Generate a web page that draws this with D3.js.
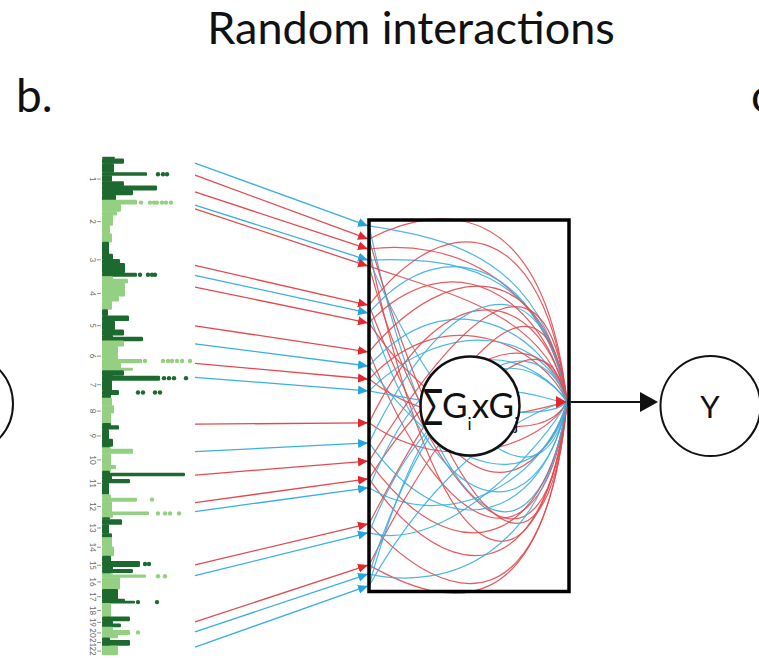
<!DOCTYPE html>
<html>
<head>
<meta charset="utf-8">
<script src="https://cdn.jsdelivr.net/npm/d3@7"></script>
<style>
  html, body { margin: 0; padding: 0; background: #fff; }
  svg { display: block; }
</style>
</head>
<body>
<svg id="fig" width="759" height="660"></svg>
<script>
// ---- Genome layout (hg19 chromosome lengths, Mb) ----
const chrNames = ["1","2","3","4","5","6","7","8","9","10","11","12","13","14","15","16","17","18","19","20","21","22"];
const chrLengths = [249,243,198,191,181,171,159,146,141,136,135,133,115,107,102,90,81,78,59,63,48,51];

// Association profile per chromosome: [fromFrac, toFrac, -log10 p]
const chrSegments = [
  [[0,0.04,1.3],[0.04,0.15,2.2],[0.15,0.36,1.2],[0.36,0.43,4.5],[0.43,0.57,1.0],[0.57,0.67,2.2],[0.67,0.77,5.5],[0.77,0.88,3.1],[0.88,1,1.4]],
  [[0,0.1,3.5],[0.1,0.27,1.9],[0.27,0.36,1.5],[0.36,0.6,1.1],[0.6,0.8,0.8],[0.8,1,1.0]],
  [[0,0.35,0.7],[0.35,0.5,1.1],[0.5,0.62,1.8],[0.62,0.9,2.3],[0.9,1,3.5]],
  [[0,0.08,1.1],[0.08,0.2,2.6],[0.2,0.6,2.3],[0.6,0.75,1.7],[0.75,1,1.0]],
  [[0,0.2,0.6],[0.2,0.36,2.7],[0.36,0.65,1.3],[0.65,0.82,2.2],[0.82,0.88,1.1],[0.88,1,4.1]],
  [[0,0.18,2.2],[0.18,0.62,1.6],[0.62,0.75,4.0],[0.75,0.92,1.9],[0.92,1,3.1]],
  [[0,0.18,2.2],[0.18,0.2,1.1],[0.2,0.36,5.8],[0.36,0.72,1.0],[0.72,0.88,1.7],[0.88,1,0.9]],
  [[0,0.3,1.0],[0.3,0.6,1.2],[0.6,1,0.9]],
  [[0,0.1,0.9],[0.1,0.25,1.7],[0.25,0.65,0.7],[0.65,0.95,1.1],[0.95,1,0.8]],
  [[0,0.06,0.9],[0.06,0.25,3.1],[0.25,0.75,0.9],[0.75,0.9,1.4],[0.9,1,0.9]],
  [[0,0.08,0.8],[0.08,0.2,8.3],[0.2,0.35,1.0],[0.35,0.5,2.8],[0.5,1,0.7]],
  [[0,0.15,0.9],[0.15,0.3,3.5],[0.3,0.75,1.0],[0.75,0.88,4.7],[0.88,1,1.1]],
  [[0,0.1,0.8],[0.1,0.35,2.0],[0.35,0.8,0.7],[0.8,1,1.0]],
  [[0,0.5,1.0],[0.5,1,1.2]],
  [[0,0.3,0.9],[0.3,0.6,3.8],[0.6,0.75,1.1],[0.75,0.95,3.1],[0.95,1,0.9]],
  [[0,0.08,1.1],[0.08,0.25,4.4],[0.25,1,1.8]],
  [[0,0.7,1.6],[0.7,0.85,2.3],[0.85,1,3.3]],
  [[0,1,0.9]],
  [[0,0.4,2.8],[0.4,0.7,1.1],[0.7,1,1.9]],
  [[0,0.3,1.1],[0.3,0.7,2.8],[0.7,1,1.6]],
  [[0,0.3,0.8],[0.3,0.9,2.8],[0.9,1,0.8]],
  [[0,1,1.6]]
];

// Isolated strong hits: [chromosome index, fraction, -log10 p]
const outliers = [
  [0,0.40,5.6],[0,0.40,6.1],[0,0.40,6.5],
  [1,0.06,3.9],[1,0.06,4.8],[1,0.06,5.2],[1,0.06,5.5],[1,0.06,6.0],[1,0.06,6.4],[1,0.06,6.9],
  [2,0.95,3.8],[2,0.95,4.6],[2,0.95,5.0],[2,0.95,5.3],
  [5,0.68,4.3],[5,0.68,6.1],[5,0.68,6.6],[5,0.68,7.0],[5,0.68,7.5],[5,0.68,8.0],[5,0.68,8.8],
  [6,0.28,6.2],[6,0.28,6.7],[6,0.28,7.2],[6,0.28,8.4],
  [6,0.8,3.6],[6,0.8,4.1],[6,0.8,5.3],[6,0.8,5.8],
  [11,0.22,5.0],
  [11,0.82,5.6],[11,0.82,6.3],[11,0.82,6.8],[11,0.82,7.7],
  [14,0.45,4.3],[14,0.45,4.7],
  [15,0.17,5.6],[15,0.17,6.3],
  [16,0.92,3.6],[16,0.92,5.5],
  [19,0.5,3.6]
];

// SNPs feeding the interaction model: [chromosome index, fraction]
const snpSources = [
  [0,0.14],[0,0.42],[0,0.81],[1,0.12],[1,0.21],[2,0.68],[2,0.97],[3,0.32],
  [4,0.52],[5,0.10],[5,0.76],[6,0.25],[8,0.04],[9,0.17],[10,0.17],[11,0.35],
  [11,0.74],[14,0.5],[15,0.13],[18,0.5],[19,0.45],[21,0.11]
];
// Where each SNP enters the model box (fraction of box height)
const inputSlots = [0.016,0.051,0.078,0.108,0.124,0.229,0.250,0.277,0.355,0.393,0.428,0.460,
                    0.546,0.600,0.649,0.697,0.721,0.818,0.842,0.929,0.953,0.985];
const inputKinds = ["b","r","r","b","r","r","b","r","r","b","r","b","r","b","r","r","b","r","b","r","b","b"];

// Pairwise interaction paths: [input index, first bend, second bend]
const links = [
  [0,0.05,0.10],[0,1.00,0.90],
  [1,-0.06,-0.04],[1,0.80,1.10],
  [2,0.05,0.15],[2,1.10,1.00],
  [3,0.10,0.12],[3,0.60,0.80],
  [4,0.20,0.25],[4,0.90,0.70],
  [5,-0.05,0.00],[5,0.80,1.05],
  [6,0.00,0.15],[6,0.90,0.80],
  [7,0.05,0.20],[7,0.60,0.60],
  [8,0.10,0.10],[8,0.90,0.95],
  [9,0.15,0.30],[9,0.70,0.75],
  [10,0.20,0.35],[10,0.60,0.50],
  [11,0.25,0.30],[11,0.50,0.55],
  [12,0.10,0.20],[12,0.70,0.60],
  [13,0.15,0.10],[13,0.90,0.80],
  [14,0.30,0.00],[14,0.95,0.90],
  [15,0.35,0.25],[15,1.00,1.00],
  [16,0.20,0.40],[16,0.85,0.70],
  [17,0.40,0.05],[17,1.05,1.10],
  [18,0.30,0.50],[18,0.90,0.60],
  [19,1.05,1.10],[19,0.50,0.20],
  [20,0.30,0.30],[20,1.00,0.90],
  [21,0.20,0.40],[21,0.60,0.50]
];

const colors = {
  dark: "#1c6a2f", light: "#94d081",
  r: "#e6262d", b: "#22a6e2",
  rLine: "#e24a4f", bLine: "#3aafe2"
};

const svg = d3.select("#fig");
const font = "Lato, 'Open Sans', sans-serif";

// ---- Headings ----
svg.append("text").attr("x", 411).attr("y", 44).attr("text-anchor", "middle")
  .attr("font-family", font).attr("font-size", 45).attr("fill", "#111")
  .text("Random interactions");
svg.append("text").attr("x", 16).attr("y", 112)
  .attr("font-family", font).attr("font-size", 46).attr("fill", "#111").text("b.");
svg.append("text").attr("x", 751).attr("y", 112)
  .attr("font-family", font).attr("font-size", 46).attr("fill", "#111").text("c");

// ---- Manhattan plot (vertical) ----
const cum = [];
chrLengths.reduce((acc, L, i) => { cum[i] = acc; return acc + L; }, 0);
const total = d3.sum(chrLengths);
const gy = d3.scaleLinear().domain([0, total]).range([157, 655]);
const vx = d3.scaleLinear().domain([0, 9]).range([102, 192]);
const posY = (c, f) => gy(cum[c] + f * chrLengths[c]);

const man = svg.append("g");
chrSegments.forEach((segs, c) => {
  const col = c % 2 === 0 ? colors.dark : colors.light;
  man.selectAll(null).data(segs).enter().append("rect")
    .attr("x", vx(0))
    .attr("y", d => posY(c, d[0]) - 0.3)
    .attr("width", d => vx(d[2]) - vx(0))
    .attr("height", d => Math.max(1.5, posY(c, d[1]) - posY(c, d[0]) + 0.6))
    .attr("rx", 1.2)
    .attr("fill", col);
});
man.selectAll("circle.hit").data(outliers).enter().append("circle")
  .attr("cx", d => vx(d[2])).attr("cy", d => posY(d[0], d[1])).attr("r", 2.2)
  .attr("fill", d => d[0] % 2 === 0 ? colors.dark : colors.light);

const mids = chrLengths.map((L, i) => cum[i] + L / 2);
const axis = svg.append("g").attr("transform", `translate(${vx(0) - 1},0)`)
  .call(d3.axisLeft(gy).tickValues(mids).tickFormat((d, i) => chrNames[i]).tickSize(4));
axis.select(".domain").remove();
axis.selectAll(".tick line").attr("stroke", "#777").attr("stroke-width", 0.8);
axis.selectAll(".tick text")
  .attr("x", 0).attr("y", 0).attr("dy", "0.35em")
  .attr("text-anchor", "middle")
  .attr("transform", "translate(-8,0) rotate(90)")
  .attr("font-family", font).attr("font-size", 8).attr("fill", "#666");

// ---- Model box ----
const box = { x0: 369, x1: 569, y0: 220, y1: 591.5 };
const by = d3.scaleLinear().domain([0, 1]).range([box.y0, box.y1]);
const W = box.x1 - box.x0;
const outPt = [box.x1 - 2, 402];

const defs = svg.append("defs");
["r", "b"].forEach(k => {
  defs.append("marker").attr("id", "head-" + k)
    .attr("viewBox", "0 0 10 10").attr("refX", 10).attr("refY", 5)
    .attr("markerUnits", "userSpaceOnUse").attr("markerWidth", 10).attr("markerHeight", 10)
    .attr("orient", "auto")
    .append("path").attr("d", "M0,0.5 L10,5 L0,9.5 Z").attr("fill", colors[k]);
});

// interaction curves
const curves = svg.append("g").attr("fill", "none");
curves.selectAll("path").data(links).enter().append("path")
  .attr("d", d => {
    const y0 = by(inputSlots[d[0]]);
    const p = d3.path();
    p.moveTo(box.x0, y0);
    p.bezierCurveTo(box.x0 + 0.4 * W, by(d[1]), box.x1 - 0.12 * W, by(d[2]), outPt[0], outPt[1]);
    return p.toString();
  })
  .attr("stroke", d => inputKinds[d[0]] === "r" ? colors.rLine : colors.bLine)
  .attr("stroke-width", 1.2).attr("opacity", 0.9);

// SNP -> model arrows
svg.append("g").selectAll("line").data(snpSources).enter().append("line")
  .attr("x1", 195).attr("y1", d => posY(d[0], d[1]))
  .attr("x2", box.x0 - 1).attr("y2", (d, i) => by(inputSlots[i]))
  .attr("stroke", (d, i) => inputKinds[i] === "r" ? colors.rLine : colors.bLine)
  .attr("stroke-width", 1.3)
  .attr("marker-end", (d, i) => `url(#head-${inputKinds[i]})`);

// combined output head
svg.append("path")
  .attr("d", `M${outPt[0] - 11},${outPt[1] - 6} L${outPt[0]},${outPt[1]} L${outPt[0] - 11},${outPt[1] + 6} Z`)
  .attr("fill", colors.r);

svg.append("rect").attr("x", box.x0).attr("y", box.y0)
  .attr("width", W).attr("height", box.y1 - box.y0)
  .attr("fill", "none").attr("stroke", "#000").attr("stroke-width", 3.5);

// sum node
svg.append("circle").attr("cx", 470).attr("cy", 406).attr("r", 49.5)
  .attr("fill", "#fff").attr("stroke", "#111").attr("stroke-width", 2.5);
svg.append("text").attr("transform", "translate(423,425) scale(0.66,1)")
  .attr("font-family", font).attr("font-size", 50).attr("fill", "#111").text("Σ");
const sumText = svg.append("text").attr("x", 442).attr("y", 418)
  .attr("font-family", font).attr("font-size", 35).attr("fill", "#111");
sumText.append("tspan").text("G");
sumText.append("tspan").attr("font-size", 17).attr("dy", 12).text("i");
sumText.append("tspan").attr("dy", -12).text("x");
sumText.append("tspan").text("G");
sumText.append("tspan").attr("font-size", 17).attr("dy", 12).text("j");

// output arrow to phenotype
svg.append("line").attr("x1", box.x1 + 1.5).attr("y1", 402).attr("x2", 642).attr("y2", 402)
  .attr("stroke", "#111").attr("stroke-width", 1.8);
svg.append("path").attr("d", "M640,392 L658,402 L640,412 Z").attr("fill", "#111");

svg.append("circle").attr("cx", 710.5).attr("cy", 406).attr("r", 50)
  .attr("fill", "none").attr("stroke", "#111").attr("stroke-width", 2);
svg.append("text").attr("x", 710).attr("y", 418).attr("text-anchor", "middle")
  .attr("font-family", font).attr("font-size", 31).attr("fill", "#111").text("Y");

// neighbouring panel node, partly off-canvas
svg.append("circle").attr("cx", -37).attr("cy", 404).attr("r", 50)
  .attr("fill", "none").attr("stroke", "#111").attr("stroke-width", 2);
</script>
</body>
</html>
